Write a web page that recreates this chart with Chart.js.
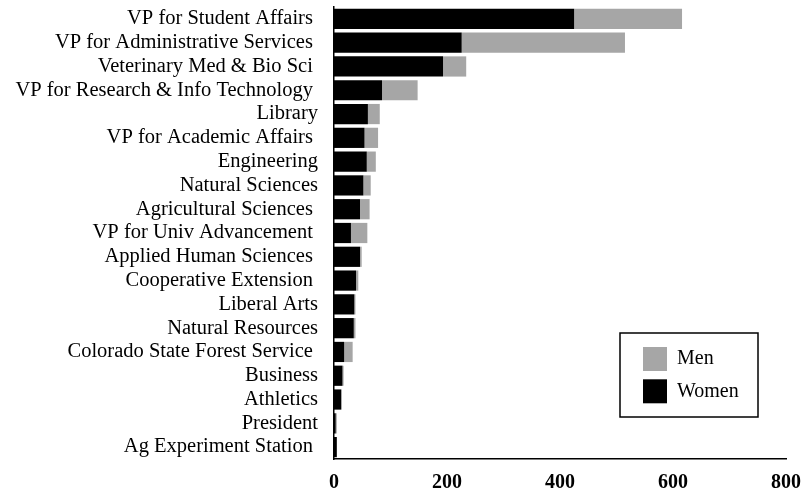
<!DOCTYPE html>
<html>
<head>
<meta charset="utf-8">
<title>Employees by unit</title>
<script src="https://cdn.jsdelivr.net/npm/chart.js@4.4.1/dist/chart.umd.min.js"></script>
<style>
    html, body { margin: 0; padding: 0; background: #fff; }
    #wrap { width: 802px; height: 490px; }
</style>
</head>
<body>
<div id="wrap"><canvas id="unitChart"></canvas></div>
<script>
// Units, top to bottom
var units = [
    'VP for Student Affairs ',
    'VP for Administrative Services ',
    'Veterinary Med & Bio Sci ',
    'VP for Research & Info Technology ',
    'Library',
    'VP for Academic Affairs ',
    'Engineering',
    'Natural Sciences',
    'Agricultural Sciences ',
    'VP for Univ Advancement ',
    'Applied Human Sciences ',
    'Cooperative Extension ',
    'Liberal Arts',
    'Natural Resources',
    'Colorado State Forest Service ',
    'Business',
    'Athletics',
    'President',
    'Ag Experiment Station '
];
var women = [425, 226, 193, 85, 60, 54, 58, 52, 46, 30, 46, 39, 36, 35, 18, 15, 13, 3, 5];
var men   = [191, 289, 41, 63, 21, 24, 16, 13, 17, 29, 3, 4, 2, 3, 15, 2, 0, 2, 0];
var xTicks = [0, 200, 400, 600, 800];

var serif = '"Liberation Serif", "Times New Roman", serif';

// Boxed legend drawn inside the plot, Men above Women
var boxLegend = {
    id: 'boxLegend',
    afterDraw: function(chart) {
        var ctx = chart.ctx;
        var area = chart.chartArea;
        var w = 138, h = 84;
        var left = area.right - 28 - w;
        var top = area.bottom - 42 - h;
        ctx.save();
        ctx.fillStyle = '#fff';
        ctx.fillRect(left, top, w, h);
        ctx.strokeStyle = '#000';
        ctx.lineWidth = 1.5;
        ctx.strokeRect(left, top, w, h);
        ctx.font = '20px ' + serif;
        ctx.textBaseline = 'middle';
        ctx.textAlign = 'left';
        var items = chart.data.datasets.slice().reverse();
        items.forEach(function(ds, i) {
            var y = top + 14 + i * 32.3;
            ctx.fillStyle = ds.backgroundColor;
            ctx.fillRect(left + 23, y, 24, 24);
            ctx.fillStyle = '#000';
            ctx.fillText(ds.label, left + 57, y + 12);
        });
        ctx.restore();
    }
};

var ctx = document.getElementById('unitChart').getContext('2d');
var unitChart = new Chart(ctx, {
    type: 'bar',
    data: {
        labels: units,
        datasets: [{
            label: 'Women',
            data: women,
            backgroundColor: '#000000',
            borderWidth: 0
        }, {
            label: 'Men',
            data: men,
            backgroundColor: '#a6a6a6',
            borderWidth: 0
        }]
    },
    options: {
        indexAxis: 'y',
        responsive: true,
        maintainAspectRatio: false,
        animation: false,
        layout: {
            padding: { top: 7, right: 16, left: 0, bottom: 0 }
        },
        datasets: {
            bar: {
                categoryPercentage: 0.85,
                barPercentage: 1.0
            }
        },
        scales: {
            x: {
                stacked: true,
                min: xTicks[0],
                max: xTicks[xTicks.length - 1],
                grid: { display: false, drawTicks: false },
                border: { display: true, color: '#000', width: 1.5 },
                ticks: {
                    stepSize: xTicks[1] - xTicks[0],
                    color: '#000',
                    padding: 12,
                    font: { family: serif, size: 20, weight: 'bold' }
                },
                afterFit: function(scale) {
                    scale.height = 31;
                    scale.paddingLeft = 0;
                    scale.paddingRight = 0;
                }
            },
            y: {
                stacked: true,
                grid: { display: false, drawTicks: false },
                border: { display: true, color: '#000', width: 1.5 },
                ticks: {
                    color: '#000',
                    padding: 16,
                    autoSkip: false,
                    font: { family: serif, size: 20.5 }
                },
                afterFit: function(scale) {
                    scale.width = 334;
                    scale.paddingTop = 0;
                    scale.paddingBottom = 0;
                }
            }
        },
        plugins: {
            legend: { display: false },
            tooltip: { enabled: false }
        }
    },
    plugins: [boxLegend]
});
</script>
</body>
</html>
